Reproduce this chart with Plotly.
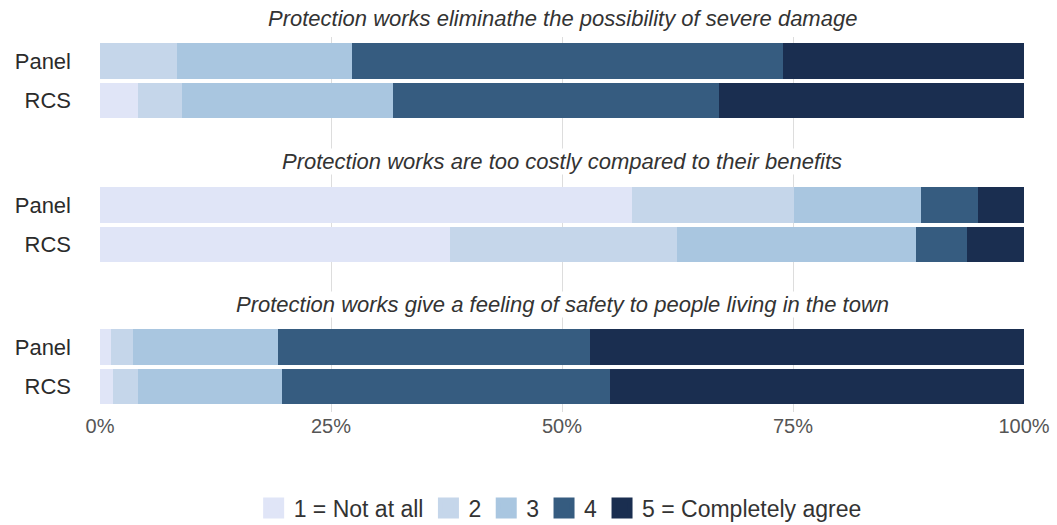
import plotly.graph_objects as go

questions = [
    "Protection works eliminathe the possibility of severe damage",
    "Protection works are too costly compared to their benefits",
    "Protection works give a feeling of safety to people living in the town",
]
groups = ["Panel", "RCS"]
levels = ["1 = Not at all", "2", "3", "4", "5 = Completely agree"]
colors = ["#E0E5F7", "#C5D6EA", "#A9C6E0", "#365C80", "#1A2E50"]

q1_panel = [0.0, 8.3, 19.0, 46.6, 26.1]
q1_rcs = [4.1, 4.8, 22.8, 35.3, 33.0]
q2_panel = [57.6, 17.5, 13.7, 6.2, 5.0]
q2_rcs = [37.9, 24.5, 25.9, 5.5, 6.2]
q3_panel = [1.2, 2.4, 15.7, 33.7, 47.0]
q3_rcs = [1.4, 2.7, 15.6, 35.5, 44.8]

tick_vals = [0, 25, 50, 75, 100]
tick_text = ["0%", "25%", "50%", "75%", "100%"]

data = [(q1_panel, q1_rcs), (q2_panel, q2_rcs), (q3_panel, q3_rcs)]

W, H = 1057, 525
top_px, bot_px = 37, 412
left_px, right_px = 100, 1024
plot_h = bot_px - top_px
facets_px = [(37, 137, 100.5), (137, 280, 244.5), (280, 412, 386.5)]
title_px = [18, 161, 304]
pitch = 39.5

def paper_y(py):
    return (bot_px - py) / plot_h

fig = go.Figure()
for i, (pv, rv) in enumerate(data):
    ax = "" if i == 0 else str(i + 1)
    for k in range(5):
        fig.add_trace(go.Bar(
            x=[pv[k], rv[k]], y=groups, orientation="h",
            marker=dict(color=colors[k], line=dict(width=0)),
            name=levels[k], showlegend=False,
            xaxis="x" + ax, yaxis="y" + ax,
        ))

for k in range(5):
    fig.add_trace(go.Scatter(
        x=[None], y=[None], mode="markers",
        marker=dict(symbol="square", size=16, color=colors[k],
                    line=dict(color=colors[k], width=5)),
        name=levels[k], showlegend=True,
    ))

layout = dict(
    width=W, height=H,
    margin=dict(l=left_px, r=W - right_px, t=top_px, b=H - bot_px, autoexpand=False),
    paper_bgcolor="white", plot_bgcolor="white",
    barmode="stack", bargap=0.1,
    font=dict(family="Liberation Sans, Arial, sans-serif", color="#333333"),
    legend=dict(orientation="h", x=0.498, xanchor="center", y=paper_y(508), yanchor="middle",
                font=dict(size=23, color="#333333"), itemwidth=30, tracegroupgap=0,
                traceorder="normal"),
    annotations=[],
)
for i in range(3):
    ax = "" if i == 0 else str(i + 1)
    t, b, rc = facets_px[i]
    r0 = -(b - rc) / pitch
    r1 = r0 + (b - t) / pitch
    xa = dict(
        domain=[0, 1], anchor="y" + ax, range=[0, 100], automargin=False,
        tickvals=tick_vals, ticktext=tick_text,
        showticklabels=(i == 2), showgrid=True, gridcolor="#DDDDDD", gridwidth=1,
        zeroline=False, showline=False, ticks="",
        tickfont=dict(size=20, color="#555555"),
    )
    if i > 0:
        xa["matches"] = "x"
    layout["xaxis" + ax] = xa
    layout["yaxis" + ax] = dict(
        domain=[paper_y(b), paper_y(t)], anchor="x" + ax, automargin=False,
        type="category", categoryorder="array", categoryarray=["RCS", "Panel"],
        range=[r0, r1], showgrid=False, zeroline=False, showline=False, ticks="",
        tickfont=dict(size=22, color="#2b2b2b"), ticklabelstandoff=28,
    )
    layout["annotations"].append(dict(
        text=questions[i], xref="paper", yref="paper", x=0.5, y=paper_y(title_px[i]),
        xanchor="center", yanchor="middle", showarrow=False,
        font=dict(size=22, color="#333333", style="italic"),
        bgcolor="white" if i > 0 else None, borderpad=0,
    ))
fig.update_layout(**layout)
fig.write_html("out.html", config={"displayModeBar": False},
               post_script="document.body.style.margin='0';document.body.style.padding='0';")
